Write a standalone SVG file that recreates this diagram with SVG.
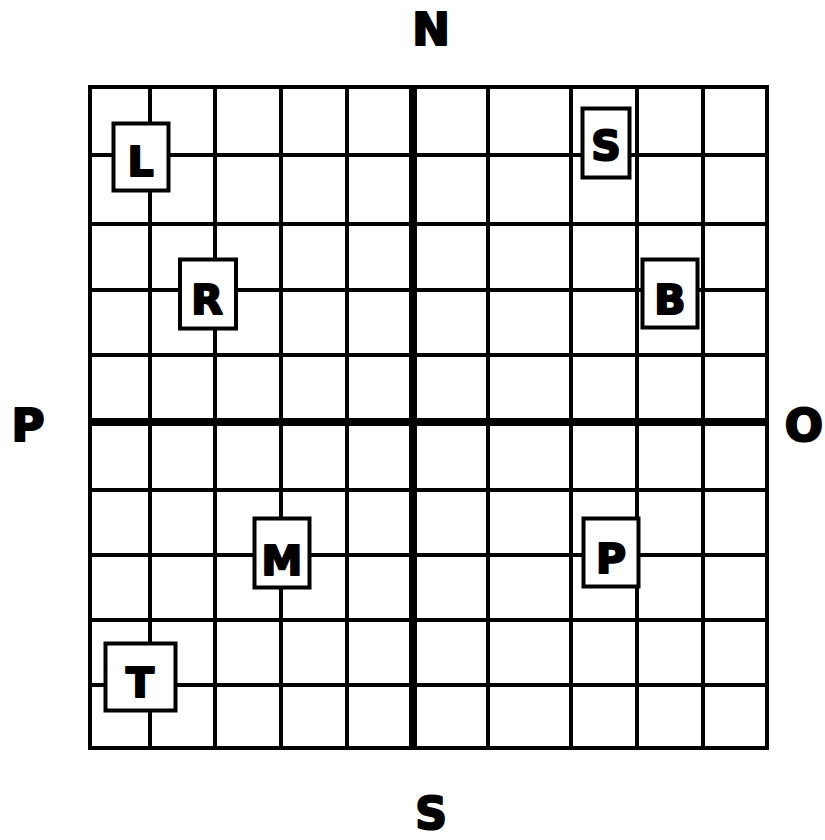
<svg xmlns="http://www.w3.org/2000/svg" width="825" height="840" viewBox="0 0 825 840">
<style>
.g{stroke:#000;stroke-width:4;fill:none;stroke-linecap:square}
.t{stroke:#000;stroke-width:8;fill:none}
.box{fill:#fff;stroke:#000;stroke-width:4}
.lb{font-family:"DejaVu Sans",sans-serif;font-weight:bold;font-size:41px;text-anchor:middle;fill:#000;stroke:#000;stroke-width:2.2;stroke-linejoin:round}
.cd{font-family:"DejaVu Sans",sans-serif;font-weight:bold;font-size:45px;text-anchor:middle;fill:#000;stroke:#000;stroke-width:2.2;stroke-linejoin:round}
</style>
<rect width="825" height="840" fill="#fff"/>
<g id="grid">
<rect class="g" x="90" y="87" width="677" height="661"/>
<path class="g" d="M150 87V748M215 87V748M281 87V748M347 87V748M488 87V748M571 87V748M637 87V748M703 87V748"/>
<path class="g" d="M90 155H767M90 224H767M90 290H767M90 355H767M90 490H767M90 555H767M90 620H767M90 685H767"/>
<path class="t" d="M413 87V748M90 422H767"/>
</g>
<g id="compass">
<text class="cd" x="431" y="45">N</text>
<text class="cd" x="431" y="829" style="font-size:44px">S</text>
<text class="cd" x="28" y="441">P</text>
<text class="cd" x="804" y="441">O</text>
</g>
<g id="node-L"><rect class="box" x="113.5" y="123.5" width="55" height="67"/><text class="lb" x="140.5" y="176">L</text></g>
<g id="node-S"><rect class="box" x="582.5" y="108.5" width="47" height="69"/><text class="lb" x="606" y="160">S</text></g>
<g id="node-R"><rect class="box" x="180" y="259.5" width="56" height="69"/><text class="lb" x="207" y="314">R</text></g>
<g id="node-B"><rect class="box" x="642.5" y="259.5" width="55" height="68"/><text class="lb" x="670" y="314">B</text></g>
<g id="node-M"><rect class="box" x="254.5" y="518.5" width="55" height="69"/><text class="lb" x="282" y="575">M</text></g>
<g id="node-P"><rect class="box" x="583.5" y="518.5" width="55" height="68"/><text class="lb" x="611" y="573">P</text></g>
<g id="node-T"><rect class="box" x="105.5" y="643.5" width="70" height="67"/><text class="lb" x="140" y="697">T</text></g>
</svg>
